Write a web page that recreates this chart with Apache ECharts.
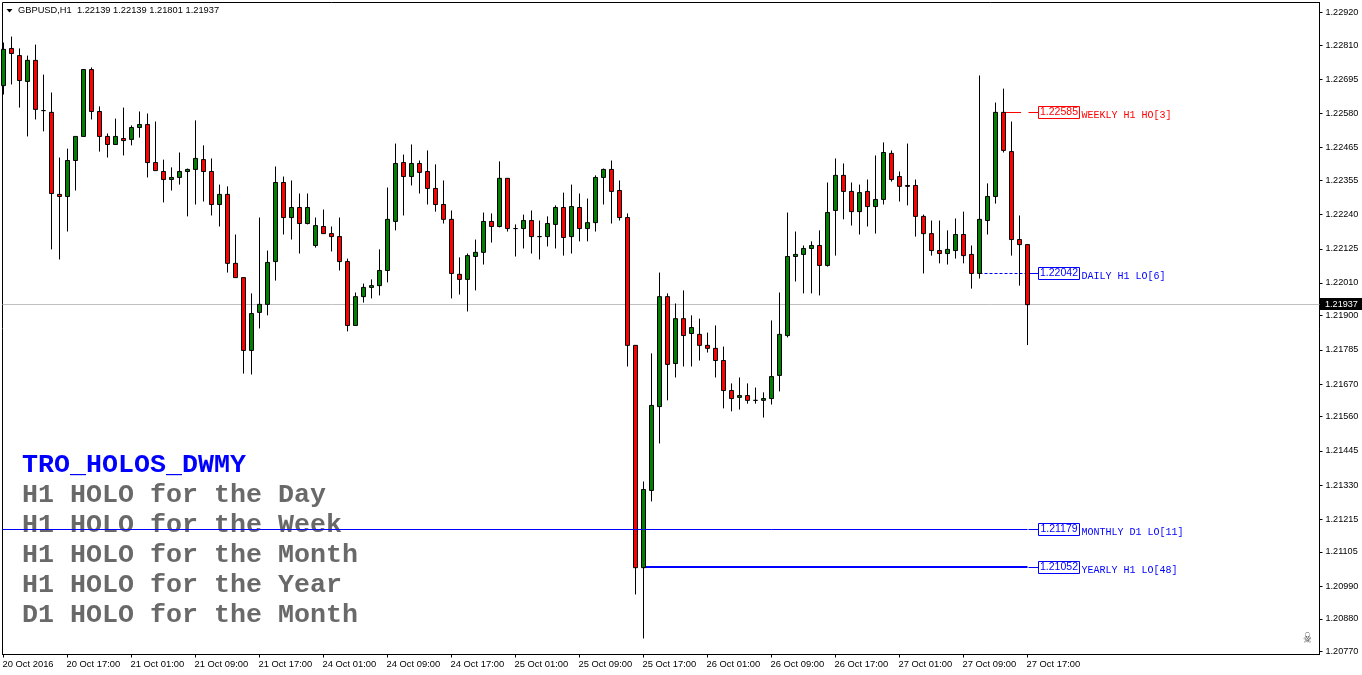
<!DOCTYPE html>
<html style="height: 100%">

<head>
  <meta charset="utf-8">
  <script type="text/javascript" src="https://cdn.jsdelivr.net/npm/echarts@6/dist/echarts.min.js"></script>
</head>

<body style="height: 100%; margin: 0; background: #fff">
  <div id="container" style="width: 1362px; height: 675px"></div>
  <script type="text/javascript">
    // GBPUSD H1 candles
    var opens = [1.22674, 1.22799, 1.22775, 1.22688, 1.22759, 1.22590, 1.22584, 1.22308, 1.22301, 1.22422,
      1.22503, 1.22728, 1.22587, 1.22503, 1.22476, 1.22496, 1.22493, 1.22533, 1.22543, 1.22415,
      1.22385, 1.22358, 1.22365, 1.22385, 1.22392, 1.22425, 1.22385, 1.22274, 1.22308, 1.22076,
      1.22028, 1.21783, 1.21911, 1.21938, 1.22082, 1.22348, 1.22230, 1.22264, 1.22210, 1.22136,
      1.22200, 1.22176, 1.22166, 1.22082, 1.21867, 1.21964, 1.21995, 1.22001, 1.22052, 1.22217,
      1.22415, 1.22368, 1.22412, 1.22385, 1.22328, 1.22274, 1.22224, 1.22039, 1.22022, 1.22099,
      1.22113, 1.22217, 1.22200, 1.22362, 1.22193, 1.22193, 1.22220, 1.22166, 1.22166, 1.22207,
      1.22264, 1.22166, 1.22264, 1.22193, 1.22213, 1.22365, 1.22392, 1.22321, 1.22230, 1.21800,
      1.21052, 1.21312, 1.21594, 1.21964, 1.21739, 1.21890, 1.21840, 1.21837, 1.21800, 1.21790,
      1.21749, 1.21648, 1.21625, 1.21631, 1.21615, 1.21615, 1.21621, 1.21699, 1.21833, 1.22099,
      1.22106, 1.22126, 1.22136, 1.22069, 1.22254, 1.22372, 1.22318, 1.22250, 1.22318, 1.22267,
      1.22291, 1.22446, 1.22368, 1.22338, 1.22338, 1.22234, 1.22176, 1.22119, 1.22109, 1.22119,
      1.22173, 1.22106, 1.22042, 1.22220, 1.22301, 1.22584, 1.22452, 1.22156, 1.22139];
    var highs = [1.22819, 1.22839, 1.22799, 1.22775, 1.22812, 1.22711, 1.22651, 1.22432, 1.22462, 1.22503,
      1.22728, 1.22735, 1.22604, 1.22513, 1.22563, 1.22600, 1.22540, 1.22587, 1.22580, 1.22553,
      1.22425, 1.22399, 1.22449, 1.22395, 1.22557, 1.22473, 1.22429, 1.22341, 1.22335, 1.22173,
      1.22028, 1.21975, 1.22230, 1.22119, 1.22402, 1.22368, 1.22355, 1.22311, 1.22311, 1.22230,
      1.22257, 1.22200, 1.22230, 1.22092, 1.21978, 1.22008, 1.22022, 1.22123, 1.22331, 1.22479,
      1.22442, 1.22476, 1.22422, 1.22456, 1.22409, 1.22355, 1.22254, 1.22096, 1.22109, 1.22156,
      1.22247, 1.22244, 1.22419, 1.22362, 1.22207, 1.22240, 1.22254, 1.22220, 1.22234, 1.22271,
      1.22314, 1.22341, 1.22311, 1.22294, 1.22372, 1.22395, 1.22422, 1.22355, 1.22244, 1.21800,
      1.21342, 1.21773, 1.22045, 1.21975, 1.21941, 1.21985, 1.21901, 1.21890, 1.21843, 1.21867,
      1.21796, 1.21672, 1.21692, 1.21672, 1.21658, 1.21642, 1.21884, 1.21978, 1.22247, 1.22183,
      1.22136, 1.22150, 1.22187, 1.22348, 1.22429, 1.22412, 1.22348, 1.22341, 1.22358, 1.22439,
      1.22483, 1.22456, 1.22385, 1.22479, 1.22358, 1.22240, 1.22220, 1.22220, 1.22187, 1.22227,
      1.22250, 1.22136, 1.22708, 1.22345, 1.22617, 1.22664, 1.22553, 1.22237, 1.22139];
    var lows = [1.22644, 1.22678, 1.22600, 1.22503, 1.22560, 1.22520, 1.22123, 1.22089, 1.22183, 1.22321,
      1.22503, 1.22560, 1.22452, 1.22432, 1.22476, 1.22439, 1.22473, 1.22499, 1.22365, 1.22388,
      1.22281, 1.22321, 1.22341, 1.22234, 1.22274, 1.22284, 1.22237, 1.22200, 1.22045, 1.22028,
      1.21705, 1.21702, 1.21857, 1.21901, 1.22018, 1.22173, 1.22156, 1.22109, 1.22207, 1.22129,
      1.22176, 1.22116, 1.22052, 1.21847, 1.21867, 1.21944, 1.21958, 1.21968, 1.22012, 1.22187,
      1.22237, 1.22338, 1.22311, 1.22274, 1.22250, 1.22210, 1.21958, 1.21971, 1.21914, 1.21985,
      1.22072, 1.22146, 1.22197, 1.22183, 1.22099, 1.22126, 1.22109, 1.22089, 1.22133, 1.22126,
      1.22102, 1.22109, 1.22150, 1.22150, 1.22183, 1.22274, 1.22210, 1.22220, 1.21729, 1.20962,
      1.20814, 1.21275, 1.21470, 1.21615, 1.21692, 1.21729, 1.21729, 1.21749, 1.21776, 1.21692,
      1.21588, 1.21578, 1.21584, 1.21604, 1.21604, 1.21557, 1.21601, 1.21645, 1.21827, 1.22015,
      1.21975, 1.21975, 1.21968, 1.22065, 1.22102, 1.22224, 1.22203, 1.22173, 1.22200, 1.22176,
      1.22274, 1.22351, 1.22284, 1.22271, 1.22166, 1.22042, 1.22102, 1.22076, 1.22072, 1.22092,
      1.22076, 1.21991, 1.22025, 1.22173, 1.22277, 1.22449, 1.22102, 1.22001, 1.21801];
    var closes = [1.22796, 1.22782, 1.22691, 1.22759, 1.22594, 1.22590, 1.22311, 1.22301, 1.22422, 1.22503,
      1.22728, 1.22587, 1.22503, 1.22476, 1.22503, 1.22489, 1.22533, 1.22543, 1.22415, 1.22388,
      1.22358, 1.22365, 1.22385, 1.22392, 1.22429, 1.22385, 1.22274, 1.22308, 1.22076, 1.22028,
      1.21783, 1.21907, 1.21938, 1.22079, 1.22348, 1.22230, 1.22264, 1.22210, 1.22264, 1.22203,
      1.22176, 1.22166, 1.22082, 1.21867, 1.21964, 1.21995, 1.22001, 1.22052, 1.22224, 1.22412,
      1.22368, 1.22412, 1.22382, 1.22328, 1.22274, 1.22224, 1.22042, 1.22022, 1.22102, 1.22113,
      1.22217, 1.22200, 1.22362, 1.22193, 1.22193, 1.22220, 1.22166, 1.22166, 1.22210, 1.22264,
      1.22163, 1.22267, 1.22193, 1.22213, 1.22365, 1.22392, 1.22318, 1.22230, 1.21800, 1.21052,
      1.21315, 1.21598, 1.21964, 1.21736, 1.21890, 1.21833, 1.21860, 1.21800, 1.21790, 1.21749,
      1.21648, 1.21621, 1.21631, 1.21615, 1.21615, 1.21621, 1.21695, 1.21837, 1.22099, 1.22106,
      1.22126, 1.22136, 1.22069, 1.22247, 1.22372, 1.22318, 1.22250, 1.22314, 1.22267, 1.22291,
      1.22449, 1.22358, 1.22335, 1.22335, 1.22234, 1.22176, 1.22119, 1.22109, 1.22123, 1.22173,
      1.22102, 1.22042, 1.22224, 1.22301, 1.22584, 1.22456, 1.22156, 1.22139, 1.21937];

    // x axis labels sit every 8 candles
    var timeLabels = ['20 Oct 2016', '20 Oct 17:00', '21 Oct 01:00', '21 Oct 09:00', '21 Oct 17:00',
      '24 Oct 01:00', '24 Oct 09:00', '24 Oct 17:00', '25 Oct 01:00', '25 Oct 09:00', '25 Oct 17:00',
      '26 Oct 01:00', '26 Oct 09:00', '26 Oct 17:00', '27 Oct 01:00', '27 Oct 09:00', '27 Oct 17:00'];
    var priceTicks = [1.22920, 1.22810, 1.22695, 1.22580, 1.22465, 1.22355, 1.22240, 1.22125, 1.22010, 1.21900,
      1.21785, 1.21670, 1.21560, 1.21445, 1.21330, 1.21215, 1.21105, 1.20990, 1.20880, 1.20770];

    // HOLO levels: price, first candle, last candle, tag text
    var levelPrices = [1.22585, 1.22042, 1.21052, 1.21179];
    var levelFrom = [125, 122, 80, -0.125];
    var levelTo = [127.2, 128, 128, 128];
    var levelNames = ['WEEKLY H1 HO[3]', 'DAILY H1 LO[6]', 'YEARLY H1 LO[48]', 'MONTHLY D1 LO[11]'];

    var symbol = 'GBPUSD,H1';
    var noteTitle = 'TRO_HOLOS_DWMY';
    var noteLines = ['H1 HOLO for the Day', 'H1 HOLO for the Week', 'H1 HOLO for the Month',
      'H1 HOLO for the Year', 'D1 HOLO for the Month'];

    var levelStyles = [
      { color: '#ff0000', width: 1 },
      { color: '#0000ff', width: 1, dash: [3, 2] },
      { color: '#0000ff', width: 2 },
      { color: '#0000ff', width: 1 }
    ];
    var axisFont = '"Liberation Sans", sans-serif';
    var monoFont = '"Liberation Mono", monospace';

    var last = opens.length - 1;
    var candleData = opens.map(function (o, i) {
      return [i, o, closes[i], lows[i], highs[i]];
    });
    var bidPrice = closes[last];
    var timeTicks = timeLabels.map(function (t, i) { return i * 8; });
    // labels start one pixel left of their tick
    var timeLabelPos = timeTicks.map(function (v) { return v - 0.125; });

    // draws one level line with its tag, levels are drawn by two series
    function renderLevel(params, api) {
      var n = api.value(0);
      var st = levelStyles[n];
      var left = api.coord([levelFrom[n], levelPrices[n]]);
      var right = api.coord([levelTo[n], levelPrices[n]]);
      var end = api.coord([last, levelPrices[n]])[0];
      var y = Math.floor(left[1]) + 0.5;
      var lineY = st.width === 2 ? Math.floor(left[1]) : y;
      var boxX = Math.floor(end) + 11.5;
      return {
        type: 'group',
        children: [{
          type: 'line',
          shape: { x1: left[0], y1: lineY, x2: right[0], y2: lineY },
          style: { stroke: st.color, lineWidth: st.width, lineDash: st.dash }
        }, {
          type: 'line',
          shape: { x1: end + 1, y1: y, x2: boxX, y2: y },
          style: { stroke: st.color, lineWidth: 1 }
        }, {
          type: 'rect',
          shape: { x: boxX, y: y - 6, width: 41, height: 12 },
          style: { fill: '#fff', stroke: st.color, lineWidth: 1 }
        }, {
          type: 'text',
          x: boxX + 20.5,
          y: y,
          style: {
            text: levelPrices[n].toFixed(5), fill: st.color, align: 'center', verticalAlign: 'middle',
            font: '10.5px ' + axisFont
          }
        }, {
          type: 'text',
          x: boxX + 43,
          y: y + 3,
          style: {
            text: levelNames[n], fill: st.color, align: 'left', verticalAlign: 'middle',
            font: '10px ' + monoFont
          }
        }]
      };
    }

    // bid line across the chart and the black tag on the price scale
    function renderBid(params, api) {
      var p = api.coord([0, bidPrice]);
      var y = Math.floor(p[1]) + 0.5;
      return {
        type: 'group',
        children: [{
          type: 'line',
          shape: { x1: 2.5, y1: y, x2: 1319.5, y2: y },
          style: { stroke: '#c0c0c0', lineWidth: 1 }
        }, {
          type: 'rect',
          shape: { x: 1320, y: y - 6.5, width: 42, height: 12 },
          style: { fill: '#000' }
        }, {
          type: 'text',
          x: 1325,
          y: y,
          style: {
            text: bidPrice.toFixed(5), fill: '#fff', align: 'left', verticalAlign: 'middle',
            font: '9.1px ' + axisFont
          }
        }]
      };
    }

    var noteGraphics = [noteTitle].concat(noteLines).map(function (txt, i) {
      return {
        type: 'text',
        left: 22,
        top: 452 + i * 30,
        style: {
          text: txt,
          fill: i === 0 ? '#0000ff' : '#696969',
          font: 'bold 26.67px ' + monoFont
        }
      };
    });

    var option = {
      animation: false,
      backgroundColor: '#fff',
      grid: {
        left: 2.5,
        top: 2.5,
        width: 1317,
        height: 652,
        show: true,
        borderColor: '#000',
        borderWidth: 1,
        containLabel: false,
        outerBoundsMode: 'none'
      },
      xAxis: {
        type: 'value',
        min: -0.125,
        max: 164.5,
        splitLine: { show: false },
        axisLine: { show: true, onZero: false, lineStyle: { color: '#000' } },
        axisTick: {
          show: true,
          length: 3,
          lineStyle: { color: '#000' },
          customValues: timeTicks
        },
        axisLabel: {
          color: '#000',
          fontFamily: axisFont,
          fontSize: 9.4,
          align: 'left',
          margin: 5,
          customValues: timeLabelPos,
          formatter: function (v) { return timeLabels[Math.round(v / 8)]; }
        }
      },
      yAxis: {
        type: 'value',
        position: 'right',
        // one pixel row is 0.0215 / 639
        min: 1.2077 - 3 / 29721,
        max: 1.2292 + 10 / 29721,
        splitLine: { show: false },
        axisLine: { show: true, onZero: false, lineStyle: { color: '#000' } },
        axisTick: {
          show: true,
          length: 3,
          lineStyle: { color: '#000' },
          customValues: priceTicks
        },
        axisLabel: {
          color: '#000',
          fontFamily: axisFont,
          fontSize: 9.1,
          margin: 6,
          customValues: priceTicks,
          formatter: function (v) { return v.toFixed(5); }
        }
      },
      graphic: noteGraphics.concat([{
        type: 'text',
        left: 18,
        top: 6,
        style: {
          text: symbol + '  ' + opens[last].toFixed(5) + ' ' + highs[last].toFixed(5) + ' ' +
            lows[last].toFixed(5) + ' ' + closes[last].toFixed(5),
          fill: '#000',
          font: '9.3px ' + axisFont
        }
      }, {
        type: 'polygon',
        shape: { points: [[6.5, 9], [12.5, 9], [9.5, 12.5]] },
        style: { fill: '#000' }
      }, {
        type: 'text',
        x: 1303,
        y: 632,
        scaleX: 0.75,
        scaleY: 1.15,
        style: { text: '\u2620', fill: '#555', font: '13px "DejaVu Sans"' }
      }]),
      series: [{
        type: 'custom',
        coordinateSystem: 'cartesian2d',
        renderItem: renderBid,
        data: [[0]],
        clip: false,
        silent: true,
        z: 1
      }, {
        type: 'custom',
        coordinateSystem: 'cartesian2d',
        renderItem: renderLevel,
        data: [[0], [1], [2]],
        encode: { x: -1, y: -1 },
        clip: false,
        silent: true,
        z: 1
      }, {
        type: 'candlestick',
        data: candleData,
        encode: { x: 0, y: [1, 2, 3, 4] },
        barWidth: 4,
        clip: true,
        itemStyle: {
          color: '#008000',
          color0: '#ff0000',
          borderColor: '#000',
          borderColor0: '#000',
          borderColorDoji: '#000',
          borderWidth: 1
        },
        z: 3
      }, {
        type: 'custom',
        coordinateSystem: 'cartesian2d',
        renderItem: renderLevel,
        data: [[3]],
        encode: { x: -1, y: -1 },
        clip: false,
        silent: true,
        z: 5
      }]
    };

    var myChart = echarts.init(document.getElementById('container'));
    myChart.setOption(option);
  </script>
</body>

</html>
